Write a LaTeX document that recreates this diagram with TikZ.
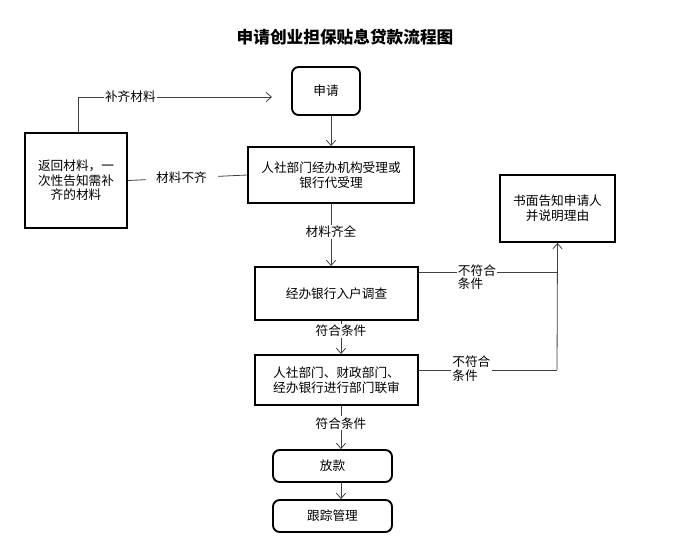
\documentclass[tikz,border=0pt]{standalone}
\usepackage{fontspec}
\setmainfont{Noto Sans CJK SC}
\usetikzlibrary{arrows.meta}
\begin{document}
\begin{tikzpicture}[x=0.75pt,y=-0.75pt,
 box/.style={draw,line width=1.4pt,inner sep=0pt,align=center,font=\fontsize{9.5}{11}\selectfont},
 rbox/.style={box,rounded corners=5pt},
 lab/.style={fill=white,inner sep=1pt,align=left,font=\fontsize{9.5}{10}\selectfont},
 ln/.style={draw=black!75,line width=0.6pt},
 arr/.style={ln,-{Straight Barb[length=4pt,width=7pt]}}]
\useasboundingbox (0,0) rectangle (688,551);
\node[font=\bfseries\fontsize{12.5}{14}\selectfont] (title) at (345,37) {申请创业担保贴息贷款流程图};
\node[rbox,minimum width=68*0.75pt,minimum height=48*0.75pt] (apply) at (326,91) {申请};
\node[box,minimum width=166*0.75pt,minimum height=56*0.75pt] (accept) at (331,175) {人社部门经办机构受理或\\银行代受理};
\node[box,minimum width=102*0.75pt,minimum height=95*0.75pt] (ret) at (76,180.5) {返回材料，一\\次性告知需补\\齐的材料};
\node[box,minimum width=115*0.75pt,minimum height=67*0.75pt] (notice) at (557.5,208.5) {书面告知申请人\\并说明理由};
\node[box,minimum width=163*0.75pt,minimum height=53*0.75pt] (survey) at (336.5,293.5) {经办银行入户调查};
\node[box,minimum width=163*0.75pt,minimum height=50*0.75pt] (review) at (336.5,380) {人社部门、财政部门、\\经办银行进行部门联审};
\node[rbox,minimum width=119*0.75pt,minimum height=32*0.75pt] (loan) at (332.5,466) {放款};
\node[rbox,minimum width=119*0.75pt,minimum height=32*0.75pt] (track) at (332.5,516) {跟踪管理};
\coordinate (c1) at (78,97);
\coordinate (c2) at (272,97);
\draw[ln] (ret.north -| c1) -- (c1);
\draw[arr] (c1) -- node[lab,pos=0.27]{补齐材料} (c2);
\draw[arr] (apply.south -| 331,0) -- (accept.north);
\draw[ln] (accept.west) -- node[lab,pos=0.55,inner xsep=8pt]{材料不齐} (ret.east);
\draw[arr] (accept.south) -- node[lab,pos=0.45]{材料齐全} (survey.north -| accept.south);
\draw[arr] (survey.south -| 341,0) -- node[lab,pos=0.3]{符合条件} (review.north -| 341,0);
\draw[arr] (review.south -| 341,0) -- node[lab,pos=0.4]{符合条件} (loan.north -| 341,0);
\draw[arr] (loan.south -| 341,0) -- (track.north -| 341,0);
\coordinate (j1) at (557,272);
\coordinate (j2) at (557,370);
\draw[ln] (survey.east |- j1) -- node[lab,pos=0.42,yshift=-4pt]{不符合\\条件} (j1);
\draw[ln] (review.east |- j2) -- node[lab,pos=0.38,yshift=1pt]{不符合\\条件} (j2);
\draw[arr] (j2) -- (notice.south);
\end{tikzpicture}
\end{document}
